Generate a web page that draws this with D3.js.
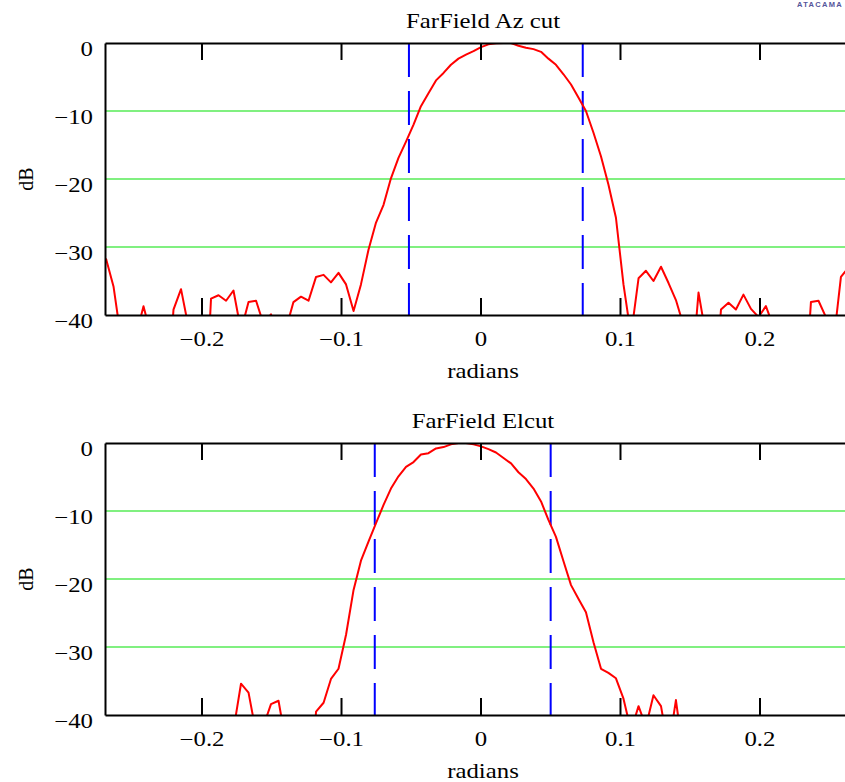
<!DOCTYPE html>
<html>
<head>
<meta charset="utf-8">
<script src="https://cdn.jsdelivr.net/npm/d3@7"></script>
<style>
    body { margin: 0; background: #fff; }
    svg { display: block; font-family: "Liberation Serif", "Times New Roman", serif; }
    .axis text { font-size: 20px; fill: #000; font-family: "Liberation Serif", serif; }
    .title, .axis--label { font-size: 20px; fill: #000; }
</style>
</head>
<body>
<div id="chart"></div>
<script>
// sample angles (radians), shared by both cuts
const angles = [-0.2685,-0.2631,-0.2577,-0.2523,-0.2469,-0.2416,-0.2362,-0.2308,-0.2254,-0.2201,
    -0.2147,-0.2093,-0.2039,-0.1986,-0.1932,-0.1878,-0.1824,-0.1771,-0.1717,-0.1663,
    -0.1609,-0.1556,-0.1502,-0.1448,-0.1394,-0.1341,-0.1287,-0.1233,-0.1179,-0.1125,
    -0.1072,-0.1018,-0.0964,-0.0910,-0.0857,-0.0803,-0.0749,-0.0695,-0.0642,-0.0588,
    -0.0534,-0.0480,-0.0427,-0.0373,-0.0319,-0.0265,-0.0212,-0.0158,-0.0104,-0.0050,
    0.0004,0.0057,0.0111,0.0165,0.0219,0.0272,0.0326,0.0380,0.0434,0.0487,
    0.0541,0.0595,0.0649,0.0702,0.0756,0.0810,0.0864,0.0917,0.0971,0.1025,
    0.1079,0.1133,0.1186,0.1240,0.1294,0.1348,0.1401,0.1455,0.1509,0.1563,
    0.1616,0.1670,0.1724,0.1778,0.1831,0.1885,0.1939,0.1993,0.2046,0.2100,
    0.2154,0.2208,0.2261,0.2315,0.2369,0.2423,0.2476,0.2530,0.2584,0.2638];

// Az cut, dB
const azDb = [-31.7,-35.8,-43.5,-50,-43,-38.7,-43,-50,-55,-39.2,
    -36.2,-41.8,-50,-60,-37.6,-37.1,-37.9,-36.4,-42.3,-38.1,
    -37.9,-41.3,-39.9,-44,-42,-38.1,-37.3,-37.9,-34.4,-34.1,
    -35.2,-33.8,-35.5,-39.4,-35.5,-30.4,-26.4,-23.8,-19.9,-16.9,
    -14.5,-12.0,-9.3,-7.4,-5.5,-4.4,-3.2,-2.3,-1.7,-1.2,
    -0.6,-0.2,-0.05,0,0,-0.4,-0.7,-0.9,-1.3,-2.3,
    -3.2,-4.6,-6.1,-8.0,-10.0,-13.2,-16.7,-20.8,-25.7,-35.5,
    -43,-34.6,-33.5,-35.0,-32.9,-35.3,-37.8,-41.5,-50,-36.7,
    -43,-55,-39.2,-38.2,-39.2,-37.0,-39.1,-40.3,-38.7,-41.7,
    -50,-55,-55,-55,-38.1,-37.9,-40.3,-44.2,-34.4,-33];

// El cut, dB
const elDb = [-52,-48,-55,-50,-46,-53,-49,-55,-47,-52,
    -50,-56,-48,-51,-54,-49,-52,-42.2,-35.4,-36.7,
    -42.6,-41.6,-38.4,-37.9,-44.2,-50,-52,-55,-39.5,-38.2,
    -34.7,-33.2,-28.2,-21.6,-17.3,-14.5,-11.8,-9.1,-6.7,-4.9,
    -3.5,-2.8,-1.7,-1.5,-0.8,-0.6,-0.2,0,0,-0.2,
    -0.5,-0.9,-1.4,-2.2,-3.0,-4.3,-5.3,-6.7,-8.6,-11.3,
    -13.8,-17.4,-20.9,-22.9,-24.9,-29.3,-33.2,-33.8,-34.6,-37.6,
    -42.3,-38.7,-41.7,-37.1,-38.7,-45,-37.8,-46,-52,-49,
    -55,-50,-53,-48,-51,-56,-49,-52,-54,-50,
    -47,-53,-51,-55,-48,-52,-50,-54,-49,-51];

// half-power markers (radians)
const azMarkers = [-0.0513, 0.0733];
const elMarkers = [-0.0758, 0.0503];

const xTicks = [-0.2, -0.1, 0, 0.1, 0.2];
const yTicks = [0, -10, -20, -30, -40];
const gridDb = [-10, -20, -30];

const width = 845;
const height = 782;
const stretch = 1.24;   // the original text is wider than plain Times

const svg = d3.select("#chart")
    .append("svg")
    .attr("width", width)
    .attr("height", height);

const xScale = d3.scaleLinear()
    .domain([-0.2692, 0.2692])
    .range([105, 856]);

const fmt = d3.format("~g");

svg.append("text")
    .attr("x", 843)
    .attr("y", 7)
    .attr("text-anchor", "end")
    .style("font-family", "Liberation Sans, sans-serif")
    .style("font-size", "7.5px")
    .style("font-weight", "bold")
    .style("letter-spacing", "1.3px")
    .attr("fill", "#55559a")
    .text("ATACAMA");

function wideText(parent, x, y, cls, str) {
    return parent.append("text")
        .attr("class", cls)
        .attr("transform", `translate(${x},${y}) scale(${stretch},1)`)
        .attr("text-anchor", "middle")
        .text(str);
}

function drawPanel(top, title, values, markers, id) {
    const bottom = top + 272;
    const yScale = d3.scaleLinear()
        .domain([-40, 0])
        .range([bottom, top]);

    const g = svg.append("g");

    g.append("clipPath")
        .attr("id", id)
        .append("rect")
        .attr("x", 105)
        .attr("y", top)
        .attr("width", width - 105)
        .attr("height", bottom - top);

    // grid
    g.selectAll(".grid")
        .data(gridDb)
        .enter()
        .append("line")
            .attr("x1", 105)
            .attr("x2", width)
            .attr("y1", d => yScale(d))
            .attr("y2", d => yScale(d))
            .attr("stroke", "#80f080")
            .attr("stroke-width", 2);

    // markers
    g.selectAll(".marker")
        .data(markers)
        .enter()
        .append("line")
            .attr("x1", d => xScale(d))
            .attr("x2", d => xScale(d))
            .attr("y1", top)
            .attr("y2", bottom)
            .attr("stroke", "#0000ff")
            .attr("stroke-width", 2)
            .attr("stroke-dasharray", "34,14");

    // curve
    const line = d3.line()
        .x((d, i) => xScale(angles[i]))
        .y(d => yScale(d));

    g.append("path")
        .datum(values)
        .attr("clip-path", `url(#${id})`)
        .attr("d", line)
        .attr("fill", "none")
        .attr("stroke", "#ff0000")
        .attr("stroke-width", 2)
        .attr("stroke-linejoin", "round");

    // frame / axes
    const xAxis = g.append("g")
        .attr("class", "axis")
        .attr("transform", `translate(0,${bottom})`)
        .call(d3.axisBottom(xScale).tickValues(xTicks).tickFormat(fmt)
            .tickSizeInner(-17).tickSizeOuter(0).tickPadding(17));
    xAxis.selectAll("text").attr("transform", `scale(${stretch},1)`);

    const xAxisTop = g.append("g")
        .attr("class", "axis")
        .attr("transform", `translate(0,${top})`)
        .call(d3.axisTop(xScale).tickValues(xTicks).tickFormat("")
            .tickSizeInner(-17).tickSizeOuter(0));

    const yAxis = g.append("g")
        .attr("class", "axis")
        .attr("transform", "translate(105,0)")
        .call(d3.axisLeft(yScale).tickValues(yTicks).tickFormat(fmt)
            .tickSizeInner(0).tickSizeOuter(0).tickPadding(12));

    yAxis.selectAll("text")
        .attr("dy", "0.62em")
        .attr("x", -12 / stretch)
        .attr("transform", `scale(${stretch},1)`);

    g.selectAll(".axis path.domain")
        .attr("stroke", "#000")
        .attr("stroke-width", 2);
    g.selectAll(".axis line")
        .attr("stroke", "#000")
        .attr("stroke-width", 2);
    g.selectAll(".axis").attr("font-family", null).attr("font-size", null);

    // labels
    wideText(g, 483, top - 15, "title", title);
    wideText(g, 483, bottom + 63, "axis--label", "radians");

    g.append("text")
        .attr("class", "axis--label")
        .attr("transform", "rotate(-90)")
        .attr("x", -(top + bottom) / 2)
        .attr("y", 33)
        .attr("text-anchor", "middle")
        .text("dB");
}

drawPanel(43, "FarField Az cut", azDb, azMarkers, "clipAz");
drawPanel(443, "FarField Elcut", elDb, elMarkers, "clipEl");
</script>
</body>
</html>
